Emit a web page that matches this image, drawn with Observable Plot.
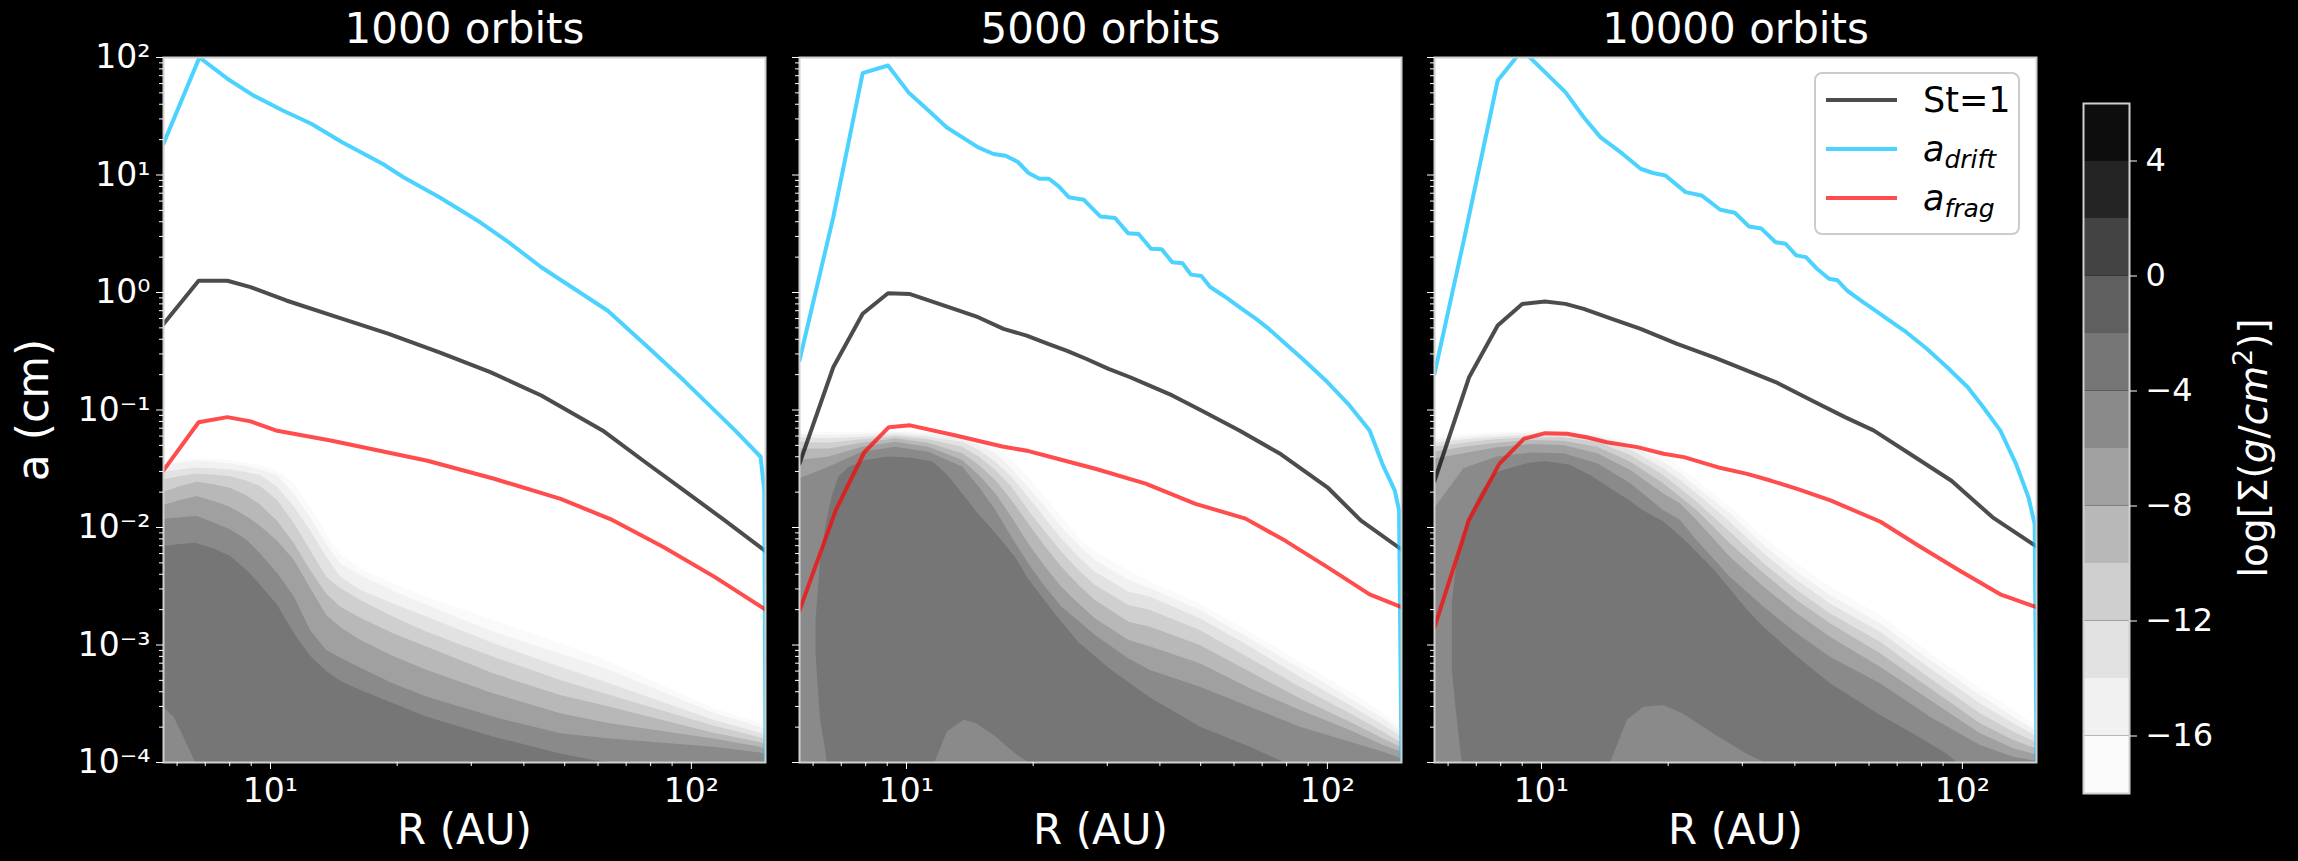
<!DOCTYPE html>
<html>
<head>
<meta charset="utf-8">
<script src="https://cdn.jsdelivr.net/npm/d3@7"></script>
<script src="https://cdn.jsdelivr.net/npm/@observablehq/plot@0.6"></script>
<style>
  html, body { margin: 0; padding: 0; background: #000; }
  #fig { position: relative; width: 2298px; height: 861px; background: #000; overflow: hidden; }
  #fig svg { position: absolute; top: 0; }
</style>
</head>
<body>
<div id="fig"></div>
<script>
// ---------------------------------------------------------------------------
// Dust surface density log Σ(R, a) and characteristic grain sizes, at three
// snapshots. Contour edges are stored as log10 a (cm) at the listed radii.
// ---------------------------------------------------------------------------

// filled contour levels of log Σ (g/cm²) and the grey for each band
const bandLevels = [-18, -16, -14, -12, -10, -8, -6, -4, -2, 0, 2, 4];
const bandColors = ["#fafafa", "#f1f1f1", "#e2e2e2", "#cfcfcf", "#b8b8b8", "#a0a0a0",
                    "#8a8a8a", "#767676", "#5f5f5f", "#434343", "#242424", "#0d0d0d"];
const edgeLevels = [-18, -16, -14, -12, -10, -8, -6];   // rows of each edges table
const coreLevel = -4;                                    // innermost band: [R, log a low, log a high]
const colorbarTicks = [-16, -12, -8, -4, 0, 4];

const xTicks = [10, 100];
const xMinor = [6, 7, 8, 9, 20, 30, 40, 50, 60, 70, 80, 90];
const yTicks = [1e-4, 1e-3, 1e-2, 1e-1, 1, 10, 100];
const yMinor = [-4, -3, -2, -1, 0, 1].flatMap(e => [2, 3, 4, 5, 6, 7, 8, 9].map(m => m * 10 ** e));

const titles = ["1000 orbits", "5000 orbits", "10000 orbits"];

// ---- 1000 orbits ----------------------------------------------------------
const R_1000 = [5.57, 6.12, 6.70, 7.34, 8.03, 8.81, 9.47, 10.4, 11.4, 12.45, 13.6, 14.7,
                16.4, 19.6, 23.6, 28.3, 34.0, 40.7, 48.9, 58.6, 64.2, 113, 146, 150];
const edges_1000 = [
  [-1.444,-1.425,-1.416,-1.419,-1.430,-1.453,-1.473,-1.521,-1.629,-1.827,-2.063,-2.233,-2.352,-2.480,-2.593,-2.693,-2.792,-2.891,-2.990,-3.090,-3.147,-3.54,-3.67,-3.70],
  [-1.473,-1.453,-1.436,-1.444,-1.459,-1.481,-1.510,-1.558,-1.720,-1.918,-2.145,-2.310,-2.409,-2.542,-2.664,-2.778,-2.891,-2.985,-3.076,-3.169,-3.217,-3.58,-3.70,-3.73],
  [-1.530,-1.510,-1.493,-1.501,-1.510,-1.535,-1.558,-1.657,-1.827,-2.026,-2.253,-2.423,-2.537,-2.650,-2.764,-2.877,-2.990,-3.090,-3.189,-3.283,-3.331,-3.64,-3.75,-3.77],
  [-1.595,-1.566,-1.544,-1.555,-1.566,-1.606,-1.651,-1.771,-1.969,-2.196,-2.423,-2.522,-2.622,-2.764,-2.891,-2.999,-3.104,-3.203,-3.303,-3.388,-3.430,-3.69,-3.79,-3.81],
  [-1.700,-1.651,-1.615,-1.637,-1.666,-1.731,-1.808,-1.949,-2.139,-2.366,-2.565,-2.678,-2.772,-2.905,-3.019,-3.132,-3.246,-3.339,-3.430,-3.495,-3.530,-3.75,-3.83,-3.85],
  [-1.813,-1.771,-1.737,-1.779,-1.827,-1.910,-1.989,-2.117,-2.281,-2.517,-2.749,-2.854,-2.962,-3.098,-3.217,-3.317,-3.416,-3.501,-3.586,-3.643,-3.671,-3.80,-3.87,-3.89],
  [-1.932,-1.918,-1.907,-1.961,-2.020,-2.111,-2.225,-2.392,-2.593,-2.877,-3.047,-3.112,-3.198,-3.331,-3.444,-3.530,-3.615,-3.686,-3.756,-3.785,-3.799,-3.87,-3.92,-3.93]
];
const core_1000 = [[5.57,-3.53,-2.162],[5.9,-3.615,-2.150],[6.12,-3.73,-2.145],[6.64,-4,-2.133],[7.34,-4,-2.182],
  [8.03,-4,-2.244],[8.81,-4,-2.369],[9.47,-4,-2.491],[10.4,-4,-2.661],[11.4,-4,-2.905],[12.45,-4,-3.095],
  [13.6,-4,-3.226],[14.7,-4,-3.311],[16.4,-4,-3.388],[19.6,-4,-3.501],[23.6,-4,-3.615],[28.3,-4,-3.700],
  [34.0,-4,-3.785],[40.7,-4,-3.856],[48.9,-4,-3.927],[58.6,-4,-3.983],[64.2,-4,-4]];
const stokes_1000 = [[5.57,0.54],[6.75,1.26],[7.9,1.26],[8.97,1.11],[10.9,0.855],[14.4,0.616],[19.1,0.445],
  [25.2,0.31],[33.3,0.21],[44,0.133],[61.5,0.067],[76.9,0.037],[96,0.0207],[120,0.0115],[150,0.0063]];
const drift_1000 = [[5.57,18.5],[6.78,100],[7.9,66],[9.1,47.6],[10.7,35.4],[12.5,27.3],[14.8,19.0],[18.5,12.4],
  [20.7,9.57],[25.2,6.47],[31.5,3.96],[37.2,2.6],[44,1.64],[63.3,0.70],[79,0.34],[96,0.178],[127,0.067],
  [146,0.040],[149,0.0207],[150,1e-4]];
const frag_1000 = [[5.57,0.0306],[6.75,0.0787],[7.9,0.087],[8.97,0.080],[10.3,0.067],[13.9,0.055],[23.6,0.037],
  [34,0.026],[48.9,0.0175],[64.2,0.0118],[86,0.0068],[113.5,0.0038],[150,0.0020]];

// ---- 5000 orbits ----------------------------------------------------------
const R_5000 = [5.57, 6.54, 7.85, 9.42, 11.3, 13.6, 14.9, 16.3, 17.8, 19.5, 21.4, 23.4,
                25.7, 28.1, 33.8, 38.0, 49.9, 65.6, 86.3, 113.4, 136, 146.4, 150];
const edges_5000 = [
  [-1.183,-1.192,-1.189,-1.174,-1.189,-1.217,-1.260,-1.316,-1.430,-1.572,-1.742,-1.912,-2.082,-2.210,-2.366,-2.465,-2.650,-2.891,-3.146,-3.401,-3.586,-3.671,-3.70],
  [-1.209,-1.217,-1.209,-1.192,-1.209,-1.245,-1.302,-1.373,-1.501,-1.657,-1.827,-1.997,-2.153,-2.281,-2.451,-2.522,-2.706,-2.948,-3.203,-3.458,-3.628,-3.713,-3.74],
  [-1.237,-1.245,-1.231,-1.209,-1.231,-1.274,-1.345,-1.444,-1.572,-1.742,-1.926,-2.097,-2.253,-2.380,-2.550,-2.593,-2.777,-3.018,-3.274,-3.515,-3.685,-3.756,-3.78],
  [-1.274,-1.282,-1.254,-1.226,-1.254,-1.316,-1.401,-1.515,-1.657,-1.855,-2.040,-2.210,-2.366,-2.494,-2.664,-2.706,-2.877,-3.118,-3.359,-3.586,-3.742,-3.813,-3.83],
  [-1.331,-1.331,-1.282,-1.245,-1.282,-1.373,-1.472,-1.600,-1.770,-1.969,-2.167,-2.338,-2.494,-2.621,-2.806,-2.848,-3.004,-3.231,-3.458,-3.657,-3.799,-3.855,-3.87],
  [-1.430,-1.401,-1.316,-1.274,-1.316,-1.430,-1.558,-1.713,-1.912,-2.139,-2.338,-2.508,-2.650,-2.777,-2.962,-3.018,-3.160,-3.373,-3.558,-3.728,-3.855,-3.898,-3.91],
  [-1.586,-1.487,-1.359,-1.316,-1.359,-1.487,-1.657,-1.855,-2.082,-2.309,-2.508,-2.678,-2.800,-2.920,-3.120,-3.217,-3.359,-3.529,-3.699,-3.827,-3.912,-3.955,-3.97]
];
const core_5000 = [[6.10,-3.08,-2.79],[6.25,-3.64,-2.28],[6.43,-3.90,-2.00],[6.48,-4,-1.93],[6.66,-4,-1.74],
  [6.91,-4,-1.57],[7.30,-4,-1.49],[8.0,-4,-1.43],[9.08,-4,-1.40],[10.3,-4,-1.41],[11.5,-4,-1.44],[11.7,-4,-1.46],
  [12.5,-3.74,-1.55],[13.7,-3.64,-1.73],[14.7,-3.67,-1.87],[16.3,-3.78,-2.05],[18.2,-3.93,-2.26],[19.5,-4,-2.44],
  [22.6,-4,-2.74],[25.7,-4,-2.98],[30.8,-4,-3.22],[38,-4,-3.45],[50,-4,-3.70],[65.6,-4,-3.87],[79,-4,-4]];
const stokes_5000 = [[5.57,0.035],[6.70,0.231],[7.87,0.66],[9.04,0.986],[10.2,0.97],[12.6,0.75],[14.8,0.616],
  [17.0,0.49],[19.3,0.43],[21.7,0.366],[24.0,0.32],[26.7,0.273],[30.2,0.224],[34.0,0.19],[37.7,0.162],
  [42.8,0.133],[50.2,0.099],[61.8,0.067],[77.6,0.042],[100,0.022],[120,0.0115],[150,0.0065]];
const drift_5000 = [[5.57,0.264],[6.70,4.37],[7.87,73.6],[9.04,85.5],[10.1,50.7],[11.4,34.2],[12.45,25.5],
  [14.8,17.2],[16.1,15.1],[17.2,14.6],[18.4,12.9],[19.5,10.4],[20.7,9.3],[21.8,9.3],[23,8.0],[24.3,6.47],
  [26.4,6.15],[28.9,4.43],[31.3,4.3],[33.6,3.2],[35.6,3.15],[38.1,2.36],[40.4,2.33],[42.8,1.81],[45.3,1.77],
  [47.4,1.42],[50.2,1.38],[52.6,1.12],[57,0.925],[61.8,0.75],[67.7,0.597],[72.6,0.49],[79.5,0.366],
  [87.2,0.273],[100,0.173],[112,0.113],[126,0.067],[135,0.035],[144.6,0.0206],[148,0.014],[150,1e-4]];
const frag_5000 = [[5.57,0.00197],[6.79,0.014],[7.94,0.0437],[9.08,0.0714],[10.2,0.074],[13.1,0.0607],
  [16.9,0.0489],[19.5,0.0447],[21.8,0.0402],[28.1,0.0316],[37.0,0.0236],[48.6,0.0159],[63.9,0.0119],
  [79.5,0.0077],[100,0.0046],[126,0.0027],[150,0.0021]];

// ---- 10000 orbits ---------------------------------------------------------
const R_10000 = [5.57, 6.54, 7.85, 9.42, 11.3, 13.6, 16.3, 19.5, 21.4, 23.4, 28.1, 33.8,
                 40.5, 48.6, 63.9, 84.0, 110.4, 132.5, 146.4, 150];
const edges_10000 = [
  [-1.226,-1.209,-1.194,-1.183,-1.180,-1.203,-1.265,-1.396,-1.487,-1.600,-1.827,-2.082,-2.309,-2.508,-2.749,-3.075,-3.373,-3.557,-3.671,-3.70],
  [-1.254,-1.231,-1.211,-1.197,-1.197,-1.223,-1.302,-1.444,-1.543,-1.657,-1.884,-2.153,-2.380,-2.579,-2.820,-3.132,-3.430,-3.614,-3.713,-3.74],
  [-1.282,-1.254,-1.231,-1.217,-1.217,-1.245,-1.339,-1.501,-1.600,-1.713,-1.955,-2.224,-2.451,-2.650,-2.891,-3.203,-3.501,-3.671,-3.756,-3.78],
  [-1.316,-1.282,-1.251,-1.237,-1.237,-1.274,-1.387,-1.558,-1.671,-1.784,-2.040,-2.309,-2.536,-2.735,-2.976,-3.288,-3.586,-3.742,-3.813,-3.83],
  [-1.359,-1.316,-1.282,-1.260,-1.265,-1.316,-1.444,-1.628,-1.742,-1.855,-2.139,-2.394,-2.621,-2.820,-3.075,-3.373,-3.671,-3.813,-3.870,-3.88],
  [-1.416,-1.373,-1.322,-1.294,-1.302,-1.373,-1.515,-1.713,-1.799,-1.940,-2.253,-2.508,-2.735,-2.933,-3.189,-3.472,-3.756,-3.884,-3.926,-3.94],
  [-1.841,-1.501,-1.401,-1.367,-1.373,-1.458,-1.628,-1.855,-1.940,-2.111,-2.423,-2.678,-2.905,-3.104,-3.330,-3.614,-3.855,-3.955,-3.983,-3.99]
];
const core_10000 = [[6.14,-3.22,-2.65],[6.31,-3.64,-2.28],[6.48,-4,-2.11],[6.66,-4,-1.94],[7.17,-4,-1.71],
  [7.71,-4,-1.54],[8.60,-4,-1.49],[9.42,-4,-1.45],[10.3,-4,-1.44],[11.7,-4,-1.47],[13.1,-4,-1.56],
  [14.6,-4,-1.67],[16.0,-3.64,-1.76],[17.5,-3.53,-1.86],[19.5,-3.515,-1.95],[21.8,-3.59,-2.10],
  [25.7,-3.76,-2.36],[30.8,-3.93,-2.70],[33.8,-4,-2.85],[40.5,-4,-3.10],[48.6,-4,-3.33],[63.9,-4,-3.60],
  [76.7,-4,-3.76],[92.0,-4,-3.93],[97.2,-4,-4]];
const stokes_10000 = [[5.57,0.025],[6.73,0.19],[7.87,0.524],[9.0,0.80],[10.2,0.838],[11.4,0.80],[12.6,0.726],
  [14.7,0.597],[17.2,0.49],[21.0,0.366],[25.7,0.281],[30.7,0.217],[36.0,0.173],[44,0.12],[52.6,0.087],
  [61.5,0.067],[75.3,0.042],[94.2,0.025],[118,0.0122],[150,0.0069]];
const drift_10000 = [[5.57,0.203],[6.59,3.16],[7.87,63.7],[9.0,116],[11.4,50.7],[12.6,31.0],[13.8,21.0],
  [15.6,15.1],[17.2,11.3],[18.4,10.4],[19.7,9.9],[22.0,7.15],[24.0,6.7],[26.6,5.06],[28.8,4.77],[31.1,3.65],
  [33.3,3.5],[36.0,2.68],[38.0,2.6],[40.3,2.07],[42.5,2.0],[45.0,1.61],[48.2,1.31],[50.5,1.27],[53.2,1.04],
  [58.2,0.826],[62.9,0.68],[68.1,0.558],[73.6,0.459],[82.3,0.332],[92,0.231],[103,0.156],[112,0.106],
  [123,0.067],[134,0.035],[143.6,0.018],[148.5,0.0107],[150,1e-4]];
const frag_10000 = [[5.57,0.00142],[6.72,0.0115],[7.94,0.0348],[9.08,0.0569],[10.2,0.0635],[11.5,0.0627],
  [12.8,0.0587],[14.3,0.0532],[16.9,0.0483],[19.5,0.0424],[21.8,0.0397],[26.2,0.0326],[30.8,0.0286],
  [35.0,0.0251],[40.5,0.0213],[48.6,0.0170],[63.9,0.0112],[78.7,0.0070],[98.4,0.0043],[123,0.0027],[150,0.0021]];

// ---------------------------------------------------------------------------
const colorScale = {type: "threshold", domain: bandLevels.slice(1), range: bandColors};
const FRAME_W = 602, TOP = 57, BOTTOM = 99, HEIGHT = 861;
const frameLefts = [163, 799, 1434];
const FONT = "DejaVu Sans, sans-serif";
const supDigits = {"-": "\u207b", "0": "\u2070", "1": "\u00b9", "2": "\u00b2", "3": "\u00b3", "4": "\u2074"};
const powerLabel = v => "10" + String(Math.round(Math.log10(v))).split("").map(c => supDigits[c]).join("");

const lineColors = {stokes: "#000000", drift: "#00bfff", frag: "#ff0000"};

function bandRows(grid, edges) {
  return edges.flatMap((row, k) => grid.map((R, j) => ({R, a: 10 ** row[j], level: edgeLevels[k]})));
}
function coreRows(core) {
  return core.map(([R, lo, hi]) => ({R, lo: 10 ** lo, hi: 10 ** hi, level: coreLevel}));
}
const pairs = arr => arr.map(([R, a]) => ({R, a}));

function panel(idx, grid, edges, core, stokes, drift, frag) {
  const first = idx === 0;
  const mL = first ? 163 : 24;
  const mR = 14;
  const marks = [
    Plot.frame({fill: "white"}),
    Plot.areaY(bandRows(grid, edges), {x: "R", y1: 1e-4, y2: "a", z: "level", fill: "level", clip: true}),
    Plot.areaY(coreRows(core), {x: "R", y1: "lo", y2: "hi", fill: "level", clip: true}),
    Plot.line(pairs(stokes), {x: "R", y: "a", stroke: lineColors.stokes, strokeOpacity: 0.7, strokeWidth: 4, clip: true}),
    Plot.line(pairs(drift), {x: "R", y: "a", stroke: lineColors.drift, strokeOpacity: 0.7, strokeWidth: 4, clip: true}),
    Plot.line(pairs(frag), {x: "R", y: "a", stroke: lineColors.frag, strokeOpacity: 0.7, strokeWidth: 4, clip: true}),
    Plot.frame({stroke: "#d0d0d0", strokeWidth: 2}),
    Plot.axisX({ticks: xMinor, tickSize: 4, tickFormat: () => "", label: null}),
    Plot.axisX({ticks: xTicks, tickSize: 7, tickPadding: 9, tickFormat: powerLabel, label: null, fontSize: 33}),
    Plot.axisY({ticks: yMinor, tickSize: 4, tickFormat: () => "", label: null}),
    Plot.axisY({ticks: yTicks, tickSize: 7, tickPadding: 6, label: null, fontSize: 33,
                tickFormat: first ? powerLabel : () => ""}),
    Plot.text([titles[idx]], {text: d => d, frameAnchor: "top", lineAnchor: "middle", textAnchor: "middle",
                              dy: -28, fontSize: 42, fill: "white"}),
    Plot.text(["R (AU)"], {text: d => d, frameAnchor: "bottom", lineAnchor: "middle", textAnchor: "middle",
                           dy: 68, fontSize: 42, fill: "white"})
  ];
  if (first) {
    marks.push(Plot.text(["a (cm)"], {text: d => d, frameAnchor: "left", lineAnchor: "middle", textAnchor: "middle",
                                      dx: -130, rotate: -90, fontSize: 44, fill: "white"}));
  }
  const svg = Plot.plot({
    width: mL + FRAME_W + mR, height: HEIGHT,
    marginLeft: mL, marginRight: mR, marginTop: TOP, marginBottom: BOTTOM,
    style: {background: "transparent", color: "white", fontFamily: FONT, fontSize: "32px", overflow: "visible"},
    x: {type: "log", domain: [5.57, 150], label: null},
    y: {type: "log", domain: [1e-4, 100], label: null},
    color: colorScale,
    marks
  });
  svg.style.left = (frameLefts[idx] - mL) + "px";
  svg.dataset.mL = mL;
  return svg;
}

const fig = document.getElementById("fig");
const p1 = panel(0, R_1000, edges_1000, core_1000, stokes_1000, drift_1000, frag_1000);
const p2 = panel(1, R_5000, edges_5000, core_5000, stokes_5000, drift_5000, frag_5000);
const p3 = panel(2, R_10000, edges_10000, core_10000, stokes_10000, drift_10000, frag_10000);
fig.append(p1, p2, p3);

// legend in the last panel (upper right corner of its frame)
{
  const mL = +p3.dataset.mL;
  const g = d3.select(p3).append("g")
    .attr("transform", `translate(${mL},${TOP})`)
    .attr("font-family", FONT).attr("font-size", 35).attr("fill", "black")
    .attr("text-anchor", "start");
  g.append("rect").attr("x", 381).attr("y", 16).attr("width", 204).attr("height", 161)
    .attr("rx", 7).attr("fill", "white").attr("fill-opacity", 0.8)
    .attr("stroke", "#cccccc").attr("stroke-width", 2);
  const entries = [
    {color: lineColors.stokes, main: "St=1"},
    {color: lineColors.drift, main: "a", sub: "drift"},
    {color: lineColors.frag, main: "a", sub: "frag"}
  ];
  entries.forEach((e, i) => {
    const y = 43 + i * 49;
    g.append("line").attr("x1", 392).attr("x2", 463).attr("y1", y).attr("y2", y)
      .attr("stroke", e.color).attr("stroke-opacity", 0.7).attr("stroke-width", 4);
    const t = g.append("text").attr("x", 489).attr("y", y + 12).attr("text-anchor", "start");
    if (e.sub) {
      t.append("tspan").attr("font-style", "italic").text(e.main);
      t.append("tspan").attr("font-style", "italic").attr("font-size", 25).attr("dy", 7).text(e.sub);
    } else {
      t.text(e.main);
    }
  });
}

// colorbar
{
  const cbLeft = 2083, cbWidth = 46, mL = 10;
  const cb = Plot.plot({
    width: mL + cbWidth + 205, height: HEIGHT,
    marginLeft: mL, marginRight: 205, marginTop: 103, marginBottom: 68,
    style: {background: "transparent", color: "white", fontFamily: FONT, fontSize: "32px", overflow: "visible"},
    x: {domain: [0, 1], axis: null},
    y: {domain: [-18, 6], label: null},
    color: colorScale,
    marks: [
      Plot.rect(bandLevels, {x1: 0, x2: 1, y1: d => d, y2: d => d + 2, fill: d => d}),
      Plot.frame({stroke: "#d0d0d0", strokeWidth: 2}),
      Plot.axisY({anchor: "right", ticks: colorbarTicks, tickSize: 7, tickPadding: 9, label: null, fontSize: 32,
                  tickFormat: d => d < 0 ? "\u2212" + (-d) : String(d)})
    ]
  });
  cb.style.left = (cbLeft - mL) + "px";
  fig.append(cb);
  const lbl = d3.select(cb).append("text")
    .attr("transform", `translate(${2253 - (cbLeft - mL)},448) rotate(-90)`)
    .attr("text-anchor", "middle").attr("dy", "0.35em")
    .attr("font-family", FONT).attr("font-size", 39).attr("fill", "white");
  lbl.append("tspan").text("log[\u03a3(");
  lbl.append("tspan").attr("font-style", "italic").text("g");
  lbl.append("tspan").text("/");
  lbl.append("tspan").attr("font-style", "italic").text("cm");
  lbl.append("tspan").attr("font-size", 27).attr("dy", -15).text("2");
  lbl.append("tspan").attr("dy", 15).text(")]");
}
</script>
</body>
</html>
